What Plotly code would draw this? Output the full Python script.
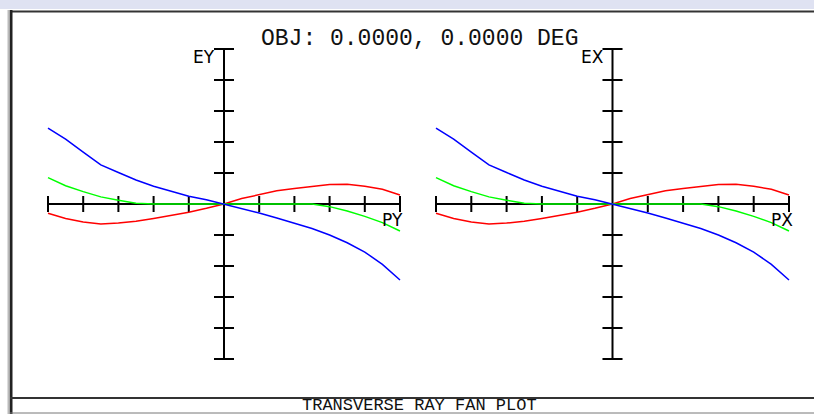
import plotly.graph_objects as go

# ---- data ----
pupil = [-1.0, -0.9, -0.8, -0.7, -0.6, -0.5, -0.4, -0.3, -0.2, -0.1, 0.0,
         0.1, 0.2, 0.3, 0.4, 0.5, 0.6, 0.7, 0.8, 0.9, 1.0]

ey_blue = [0.49, 0.418, 0.335, 0.252, 0.203, 0.155, 0.115, 0.082, 0.050, 0.027, 0.0,
           -0.030, -0.058, -0.090, -0.122, -0.158, -0.200, -0.250, -0.310, -0.390, -0.490]
ey_green = [0.170, 0.118, 0.080, 0.046, 0.024, 0.005, 0.0, 0.0, 0.0, 0.0, 0.0,
            0.0, 0.0, 0.0, 0.0, 0.0, -0.017, -0.045, -0.080, -0.120, -0.174]
ey_red = [-0.060, -0.094, -0.116, -0.129, -0.123, -0.111, -0.093, -0.073, -0.053, -0.028, 0.0,
          0.035, 0.062, 0.085, 0.100, 0.115, 0.126, 0.127, 0.115, 0.095, 0.058]

ex_blue = list(ey_blue)
ex_green = list(ey_green)
ex_red = list(ey_red)

tick_vals = [-1.0, -0.8, -0.6, -0.4, -0.2, 0.2, 0.4, 0.6, 0.8, 1.0]

title_text = "OBJ: 0.0000, 0.0000 DEG"
footer_text = "TRANSVERSE RAY FAN PLOT"
panels = [
    dict(xa="x", ya="y", ylab="EY", xlab="PY", blue=ey_blue, green=ey_green, red=ey_red),
    dict(xa="x2", ya="y2", ylab="EX", xlab="PX", blue=ex_blue, green=ex_green, red=ex_red),
]

W, H = 814, 414
EXT = 1.1
# pixel geometry of each panel: centre x, half width ; centre y, half height
geo = [(224.0, 176.0), (612.5, 176.5)]
cy, hh = 204.0, 155.0

fig = go.Figure()

xtick_half = 8 / hh   # in y data units
ytick_half = 10 / 176.0

for i, p in enumerate(panels):
    xa, ya = p["xa"], p["ya"]
    # crosshair axes
    fig.add_trace(go.Scatter(x=[-1, 1, None, 0, 0], y=[0, 0, None, -1, 1], mode="lines",
                             line=dict(color="black", width=2), xaxis=xa, yaxis=ya,
                             hoverinfo="skip", showlegend=False))
    tx, ty = [], []
    for t in tick_vals:
        tx += [t, t, None]
        ty += [-xtick_half, xtick_half, None]
        tx += [-ytick_half, ytick_half, None]
        ty += [t, t, None]
    fig.add_trace(go.Scatter(x=tx, y=ty, mode="lines", line=dict(color="black", width=2),
                             xaxis=xa, yaxis=ya, hoverinfo="skip", showlegend=False))
    for key, col in [("red", "#ff0000"), ("green", "#00ff00"), ("blue", "#0000ff")]:
        fig.add_trace(go.Scatter(x=pupil, y=p[key], mode="lines",
                                 line=dict(color=col, width=1.5),
                                 xaxis=xa, yaxis=ya, showlegend=False))
    fig.add_annotation(x=0, y=0.95, xref=xa, yref=ya, text=p["ylab"], showarrow=False,
                       xanchor="right", yanchor="middle", xshift=-7,
                       font=dict(family="DejaVu Sans", size=17, color="black"))
    fig.add_annotation(x=0.96, y=-0.1, xref=xa, yref=ya, text=p["xlab"], showarrow=False,
                       xanchor="center", yanchor="middle",
                       font=dict(family="DejaVu Sans", size=17, color="black"))

def xdom(c, h):
    return [(c - h * EXT) / W, (c + h * EXT) / W]

ydom = [1 - (cy + hh * EXT) / H, 1 - (cy - hh * EXT) / H]

axis_common = dict(visible=False, range=[-EXT, EXT], fixedrange=True)
fig.update_layout(
    width=W, height=H,
    margin=dict(l=0, r=0, t=0, b=0),
    paper_bgcolor="white", plot_bgcolor="rgba(0,0,0,0)",
    showlegend=False,
    xaxis=dict(domain=xdom(*geo[0]), anchor="y", **axis_common),
    yaxis=dict(domain=ydom, anchor="x", **axis_common),
    xaxis2=dict(domain=xdom(*geo[1]), anchor="y2", **axis_common),
    yaxis2=dict(domain=ydom, anchor="x2", **axis_common),
)

# title and footer
fig.add_annotation(x=419 / W, y=1 - 39 / H, xref="paper", yref="paper", text=title_text,
                   showarrow=False, xanchor="center", yanchor="middle",
                   font=dict(family="Liberation Mono", size=23, color="#111111"))
fig.add_annotation(x=419 / W, y=1 - 405.5 / H, xref="paper", yref="paper", text=footer_text,
                   showarrow=False, xanchor="center", yanchor="middle",
                   font=dict(family="Liberation Mono", size=17, color="#111111"))

# window frame
shapes = [
    dict(type="rect", xref="paper", yref="paper", x0=0, x1=1, y0=1 - 9 / H, y1=1,
         fillcolor="#dfe2f2", line=dict(width=0), layer="below"),
    dict(type="line", xref="paper", yref="paper", x0=10 / W, x1=1, y0=1 - 11.5 / H, y1=1 - 11.5 / H,
         line=dict(color="#333333", width=2)),
    dict(type="line", xref="paper", yref="paper", x0=11 / W, x1=11 / W, y0=0, y1=1 - 10 / H,
         line=dict(color="#222222", width=3)),
    dict(type="line", xref="paper", yref="paper", x0=8.5 / W, x1=8.5 / W, y0=0, y1=1 - 10 / H,
         line=dict(color="#bbbbbb", width=2)),
    dict(type="line", xref="paper", yref="paper", x0=10 / W, x1=1, y0=1 - 398 / H, y1=1 - 398 / H,
         line=dict(color="#333333", width=2)),
    dict(type="line", xref="paper", yref="paper", x0=10 / W, x1=1, y0=1 - 413 / H, y1=1 - 413 / H,
         line=dict(color="#777777", width=1)),
]
fig.update_layout(shapes=shapes)

fig.write_html("out.html",
               config={"displayModeBar": False},
               post_script="document.body.style.margin='0';document.body.style.overflow='hidden';")
